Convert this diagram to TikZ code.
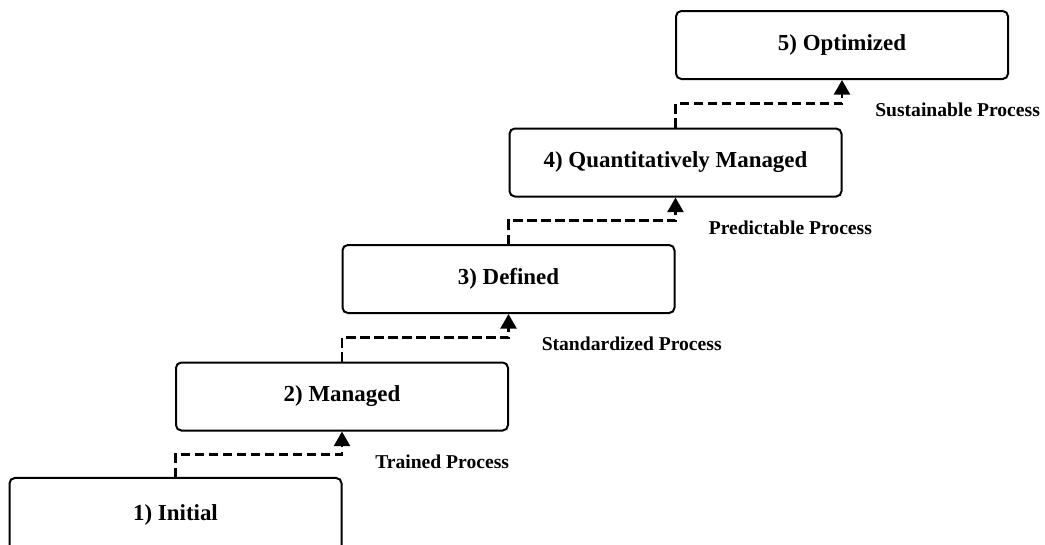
\documentclass[tikz,border=0pt]{standalone}
\usepackage{fontspec}
\setmainfont{Liberation Serif}
\usetikzlibrary{arrows.meta,calc}
\tikzset{
  level/.style={draw=black, line width=1.5pt, rounded corners=4pt, rectangle,
    minimum width=249pt, minimum height=51pt, inner sep=0pt,
    font=\fontsize{17.2}{20}\selectfont\bfseries},
  conn/.style={line width=2pt, dash pattern=on 7pt off 3.5pt,
    -{Triangle[length=11pt,width=12pt]}},
  lab/.style={anchor=west, inner sep=0pt, font=\fontsize{14.7}{17}\selectfont\bfseries}
}
\begin{document}
\begin{tikzpicture}[x=0.75pt,y=-0.75pt]
\useasboundingbox (0,0) rectangle (1045,544);
\node[level, minimum height=56pt] (b1) at (175.5,515.3) {1) Initial};
\node[level] (b2) at (342,396.5) {2) Managed};
\node[level] (b3) at (508.5,279) {3) Defined};
\node[level] (b4) at (675.5,162.5) {4) Quantitatively Managed};
\node[level] (b5) at (842,45) {5) Optimized};
\foreach \a/\b/\t in {b1/b2/Trained Process, b2/b3/Standardized Process, b3/b4/Predictable Process, b4/b5/Sustainable Process}{
  \draw[conn] (\a.north) |- ($(\a.north)!0.5!(\b.south)$) -| (\b.south);
  \node[lab] (l\b) at ($(\b.south)+(33,30)$) {\t};
}
\end{tikzpicture}
\end{document}
